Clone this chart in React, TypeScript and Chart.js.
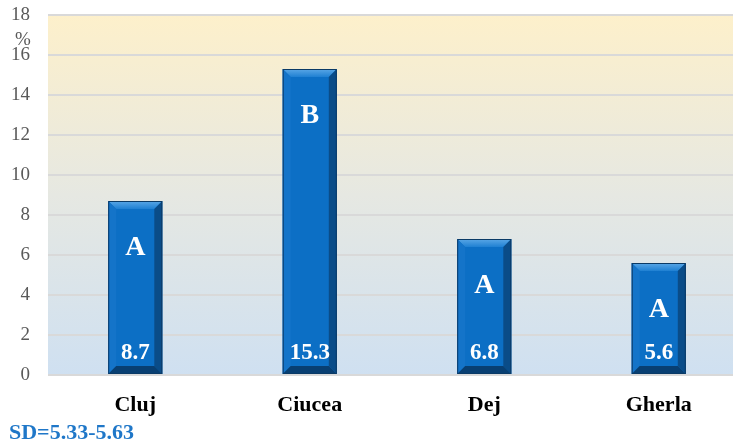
import React, { useEffect, useRef } from "react";
import { Chart, registerables } from "chart.js";

Chart.register(...registerables);

const categories = ["Cluj", "Ciucea", "Dej", "Gherla"];
const values = [8.7, 15.3, 6.8, 5.6];
const letters = ["A", "B", "A", "A"];
const yTicks = [0, 2, 4, 6, 8, 10, 12, 14, 16, 18];
const unitLabel = "%";
const sdNote = "SD=5.33-5.63";

const SERIF = "'Liberation Serif', 'DejaVu Serif', serif";

const bgPlugin = {
  id: "bgGrad",
  beforeDraw(chart: any) {
    const { ctx, chartArea } = chart;
    if (!chartArea) return;
    const g = ctx.createLinearGradient(0, chartArea.top, 0, chartArea.bottom);
    g.addColorStop(0, "#fdf0cb");
    g.addColorStop(0.5, "#e6e8e2");
    g.addColorStop(1, "#cfe0f1");
    ctx.save();
    ctx.fillStyle = g;
    ctx.fillRect(chartArea.left, chartArea.top, chartArea.right - chartArea.left, chartArea.bottom - chartArea.top);
    ctx.restore();
  },
};

const bevelPlugin = {
  id: "bevel",
  afterDatasetsDraw(chart: any) {
    const { ctx } = chart;
    const meta = chart.getDatasetMeta(0);
    ctx.save();
    meta.data.forEach((bar: any, i: number) => {
      const p = bar.getProps(["x", "y", "base", "width"], true);
      const l = p.x - p.width / 2;
      const r = p.x + p.width / 2;
      const t = p.y;
      const bo = p.base;
      const b = 8;
      const poly = (pts: number[][], fill: any) => {
        ctx.beginPath();
        ctx.moveTo(pts[0][0], pts[0][1]);
        for (let k = 1; k < pts.length; k++) ctx.lineTo(pts[k][0], pts[k][1]);
        ctx.closePath();
        ctx.fillStyle = fill;
        ctx.fill();
      };
      const tg = ctx.createLinearGradient(0, t, 0, t + b);
      tg.addColorStop(0, "#5aa7e6");
      tg.addColorStop(1, "#1f80d2");
      poly([[l, t], [r, t], [r - b, t + b], [l + b, t + b]], tg);
      poly([[l, t], [l + b, t + b], [l + b, bo - b], [l, bo]], "#1474c9");
      poly([[r, t], [r, bo], [r - b, bo - b], [r - b, t + b]], "#0a4c88");
      poly([[l, bo], [r, bo], [r - b, bo - b], [l + b, bo - b]], "#083f72");
      ctx.strokeStyle = "#0a3a66";
      ctx.lineWidth = 1;
      ctx.strokeRect(l + 0.5, t + 0.5, p.width - 1, bo - t - 1);

      ctx.fillStyle = "#ffffff";
      ctx.textAlign = "center";
      ctx.textBaseline = "middle";
      ctx.font = `bold 28px ${SERIF}`;
      ctx.fillText(letters[i], p.x, t + 47);
      ctx.font = `bold 23px ${SERIF}`;
      ctx.fillText(String(values[i]), p.x, bo - 21);
    });
    ctx.restore();
  },
  afterDraw(chart: any) {
    const { ctx } = chart;
    ctx.save();
    ctx.fillStyle = "#595959";
    ctx.font = `19px ${SERIF}`;
    ctx.textAlign = "center";
    ctx.textBaseline = "middle";
    ctx.fillText(unitLabel, 23, 40);
    ctx.fillStyle = "#1f77c8";
    ctx.font = `bold 22px ${SERIF}`;
    ctx.textAlign = "left";
    ctx.fillText(sdNote, 9, 433);
    ctx.restore();
  },
};

export default function App() {
  const ref = useRef<HTMLCanvasElement | null>(null);
  useEffect(() => {
    if (!ref.current) return;
    const chart = new Chart(ref.current, {
      type: "bar",
      data: {
        labels: categories,
        datasets: [
          {
            data: values,
            backgroundColor: "#0c6fc5",
            borderWidth: 0,
            barPercentage: 0.31,
            categoryPercentage: 1,
          },
        ],
      },
      plugins: [bgPlugin, bevelPlugin],
      options: {
        responsive: false,
        animation: false,
        devicePixelRatio: 1,
        layout: { padding: { top: 15, right: 0, left: 0, bottom: 0 } },
        plugins: { legend: { display: false }, tooltip: { enabled: false } },
        scales: {
          x: {
            grid: { display: false, drawTicks: false },
            border: { display: false },
            ticks: {
              color: "#000000",
              font: { family: SERIF, size: 22, weight: "bold" },
              padding: 17,
            },
            afterFit(axis: any) {
              axis.height = 70;
              axis.paddingLeft = 0;
              axis.paddingRight = 0;
            },
          },
          y: {
            min: 0,
            max: 18,
            afterBuildTicks(axis: any) {
              axis.ticks = yTicks.map((v) => ({ value: v }));
            },
            grid: { color: "#d9d9d9", lineWidth: 2, drawTicks: false },
            border: { display: false },
            ticks: {
              color: "#595959",
              font: { family: SERIF, size: 19 },
              padding: 18,
            },
            afterFit(axis: any) {
              axis.width = 48;
              axis.paddingTop = 0;
              axis.paddingBottom = 0;
            },
          },
        },
      },
    } as any);
    return () => chart.destroy();
  }, []);
  return (
    <div style={{ position: "absolute", left: 0, top: 0, width: 733, height: 445, overflow: "hidden", background: "#fff" }}>
      <canvas ref={ref} width={746} height={445} style={{ display: "block" }} />
    </div>
  );
}
